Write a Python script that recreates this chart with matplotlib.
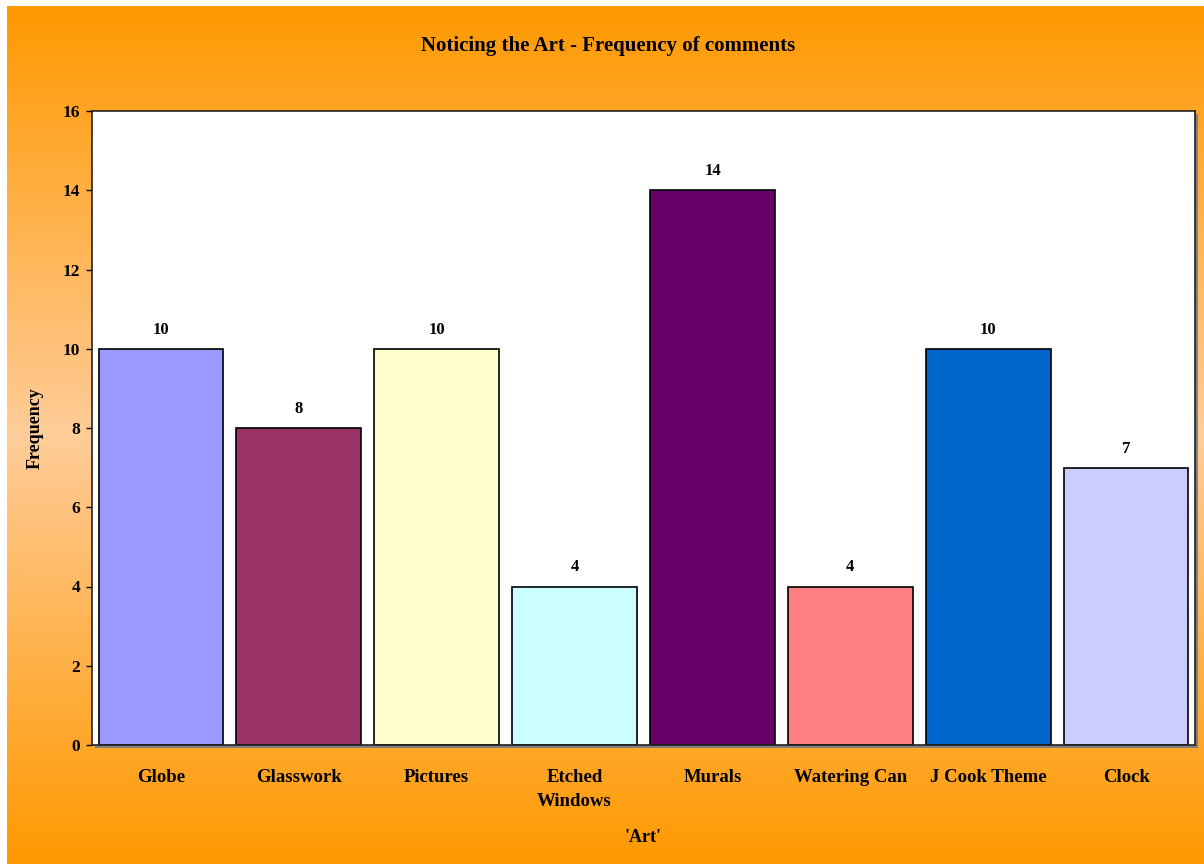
import numpy as np
import matplotlib.pyplot as plt
from matplotlib.colors import LinearSegmentedColormap
from matplotlib.patches import Rectangle

categories = ["Globe", "Glasswork", "Pictures", "Etched\nWindows", "Murals",
              "Watering Can", "J Cook Theme", "Clock"]
frequency = [10, 8, 10, 4, 14, 4, 10, 7]
bar_colors = ["#9999FF", "#993366", "#FFFFCC", "#CCFFFF", "#660066",
              "#FF8080", "#0066CC", "#CCCCFF"]

plt.rcParams['font.family'] = ['Liberation Serif', 'DejaVu Serif']
plt.rcParams['font.weight'] = 'bold'

W, H = 1204, 864
fig = plt.figure(figsize=(W / 100, H / 100), dpi=100)
fig.patch.set_facecolor("white")

# background gradient (orange -> peach -> orange)
bg = fig.add_axes([7 / W, 0, 1 - 7 / W, 1 - 6 / H], zorder=-2)
grad = np.linspace(0, 1, 256).reshape(-1, 1)
cmap = LinearSegmentedColormap.from_list(
    "bgorange", [(0, "#FF9900"), (0.5, "#FFCC99"), (1, "#FF9900")])
bg.imshow(grad, aspect="auto", cmap=cmap, extent=[0, 1, 0, 1])
bg.set_axis_off()

x0, x1, y_top, y_bot = 92, 1195, 111, 745
ax = fig.add_axes([x0 / W, 1 - y_bot / H, (x1 - x0) / W, (y_bot - y_top) / H])

# drop shadow behind the plot area
fig.patches.append(Rectangle(((x0 + 3) / W, 1 - (y_bot + 3) / H),
                             (x1 - x0) / W, (y_bot - y_top) / H,
                             transform=fig.transFigure, facecolor="#808080",
                             edgecolor="none", zorder=-1))

x = np.arange(len(categories))
bars = ax.bar(x, frequency, width=0.905, color=bar_colors,
              edgecolor="black", linewidth=1.2)
for xi, v in zip(x, frequency):
    ax.annotate(str(v), (xi, v), xytext=(0, 8), textcoords="offset points",
                ha="center", va="bottom", fontsize=12, fontweight="bold")

ax.set_xlim(-0.5, len(categories) - 0.5)
ax.set_ylim(0, 16)
ax.set_yticks(np.arange(0, 17, 2))
ax.set_xticks(x)
ax.set_xticklabels(categories, fontsize=13.5, fontweight="bold", linespacing=1.55)
ax.tick_params(axis="x", length=0, pad=17)
ax.tick_params(axis="y", direction="out", length=4.5, width=1, labelsize=12.5, pad=4)
for lab in ax.get_yticklabels():
    lab.set_fontweight("bold")
for s in ax.spines.values():
    s.set_linewidth(1.2)
    s.set_color("#222222")
ax.set_facecolor("white")

ax.set_ylabel("Frequency", fontsize=13, fontweight="bold", labelpad=14)
ax.set_xlabel("'Art'", fontsize=13, fontweight="bold", labelpad=14)
fig.text(608 / W, 1 - 46 / H, "Noticing the Art - Frequency of comments",
         ha="center", va="center", fontsize=15, fontweight="bold")

fig.savefig("out.png", dpi=100)
